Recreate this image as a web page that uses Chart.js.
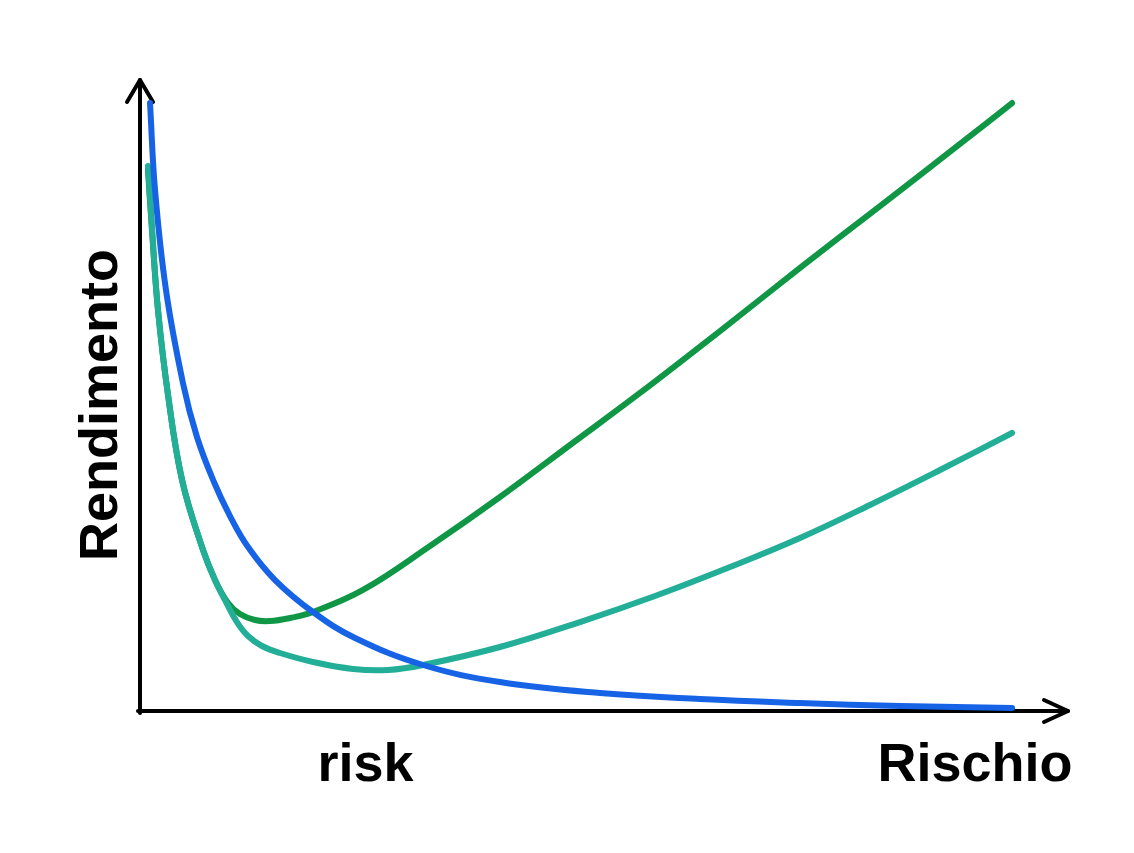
<!DOCTYPE html>
<html>
<head>
<meta charset="utf-8">
<script src="https://cdn.jsdelivr.net/npm/chart.js@4/dist/chart.umd.min.js"></script>
<style>
  html, body { margin: 0; padding: 0; background: #ffffff; }
  #wrap { width: 1134px; height: 853px; }
</style>
</head>
<body>
<div id="wrap"><canvas id="c" width="1134" height="853"></canvas></div>
<script>
// Data (x: risk 0..100, y: return 0..100)
const blueX  = [1.08, 1.62, 2.80, 4.63, 6.14, 7.97, 9.70, 11.64, 14.55, 18.64, 23.17, 30.50, 38.79, 49.57, 60.34, 71.12, 81.90, 93.97];
const blueY  = [96.35, 82.57, 66.72, 51.98, 43.42, 36.29, 30.90, 25.99, 20.76, 15.69, 11.57, 7.29, 4.60, 2.85, 1.90, 1.27, 0.79, 0.48];

const greenX = [0.86, 1.29, 1.94, 3.02, 4.53, 6.68, 8.08, 9.48, 10.78, 12.39, 14.01, 16.16, 18.64, 24.03, 31.25, 38.79, 46.34, 53.88, 62.50, 71.12, 79.74, 88.36, 93.97];
const greenY = [85.74, 76.23, 63.55, 50.08, 36.61, 25.99, 20.76, 17.12, 15.37, 14.42, 14.26, 14.74, 15.69, 19.18, 26.15, 33.91, 42.16, 50.40, 60.22, 70.21, 80.03, 89.86, 96.35];

const tealX  = [0.86, 1.29, 1.94, 3.02, 4.53, 6.68, 8.08, 9.27, 10.45, 11.64, 13.15, 15.09, 18.64, 22.95, 26.72, 30.50, 38.79, 47.41, 55.50, 63.58, 71.12, 78.66, 86.21, 93.97];
const tealY  = [86.37, 76.55, 63.55, 50.08, 36.61, 25.99, 20.76, 17.27, 14.10, 11.89, 10.30, 9.19, 7.77, 6.66, 6.50, 7.29, 10.14, 14.10, 18.23, 22.82, 27.42, 32.65, 38.19, 44.06];

const yTitle = 'Rendimento';
const xMarkLabel = 'risk';
const xMarkAt = 24.3;
const xTitle = 'Rischio';

function pts(xs, ys) { return xs.map((x, i) => ({ x: x, y: ys[i] })); }

const FONT = 'bold 54px "Liberation Sans", Arial, sans-serif';

const axesPlugin = {
  id: 'arrowAxes',
  beforeDatasetsDraw(chart) {
    const ctx = chart.ctx;
    const a = chart.chartArea;
    ctx.save();
    ctx.strokeStyle = '#000';
    ctx.lineWidth = 4;
    ctx.lineCap = 'round';
    ctx.lineJoin = 'round';
    ctx.beginPath();
    ctx.moveTo(a.left, a.bottom + 2);
    ctx.lineTo(a.left, a.top);
    ctx.stroke();
    ctx.beginPath();
    ctx.moveTo(a.left - 13, a.top + 22);
    ctx.lineTo(a.left, a.top);
    ctx.lineTo(a.left + 13, a.top + 22);
    ctx.stroke();
    ctx.beginPath();
    ctx.moveTo(a.left - 2, a.bottom);
    ctx.lineTo(a.right, a.bottom);
    ctx.stroke();
    ctx.beginPath();
    ctx.moveTo(a.right - 24, a.bottom - 11);
    ctx.lineTo(a.right, a.bottom);
    ctx.lineTo(a.right - 24, a.bottom + 11);
    ctx.stroke();
    ctx.restore();
  },
  afterDraw(chart) {
    const ctx = chart.ctx;
    const a = chart.chartArea;
    const xs = chart.scales.x;
    ctx.save();
    ctx.fillStyle = '#000';
    ctx.font = FONT;
    ctx.textBaseline = 'alphabetic';
    ctx.textAlign = 'center';
    ctx.fillText(xMarkLabel, xs.getPixelForValue(xMarkAt), a.bottom + 70);
    ctx.fillText(xTitle, 975, a.bottom + 70);
    ctx.translate(117, 405);
    ctx.rotate(-Math.PI / 2);
    ctx.fillText(yTitle, 0, 0);
    ctx.restore();
  }
};

new Chart(document.getElementById('c'), {
  type: 'line',
  data: {
    datasets: [
      { label: 'blue', data: pts(blueX, blueY), borderColor: '#1763e6', order: 1 },
      { label: 'teal', data: pts(tealX, tealY), borderColor: '#22ae97', order: 2 },
      { label: 'green', data: pts(greenX, greenY), borderColor: '#0f9746', order: 3 }
    ]
  },
  options: {
    responsive: false,
    animation: false,
    layout: { padding: { left: 140, right: 66, top: 80, bottom: 142 } },
    elements: {
      point: { radius: 0 },
      line: { borderWidth: 6, tension: 0.4, borderCapStyle: 'round', borderJoinStyle: 'round', capBezierPoints: false }
    },
    datasets: { line: { clip: false } },
    scales: {
      x: { type: 'linear', min: 0, max: 100, display: false },
      y: { type: 'linear', min: 0, max: 100, display: false }
    },
    plugins: { legend: { display: false }, tooltip: { enabled: false } }
  },
  plugins: [axesPlugin]
});
</script>
</body>
</html>
